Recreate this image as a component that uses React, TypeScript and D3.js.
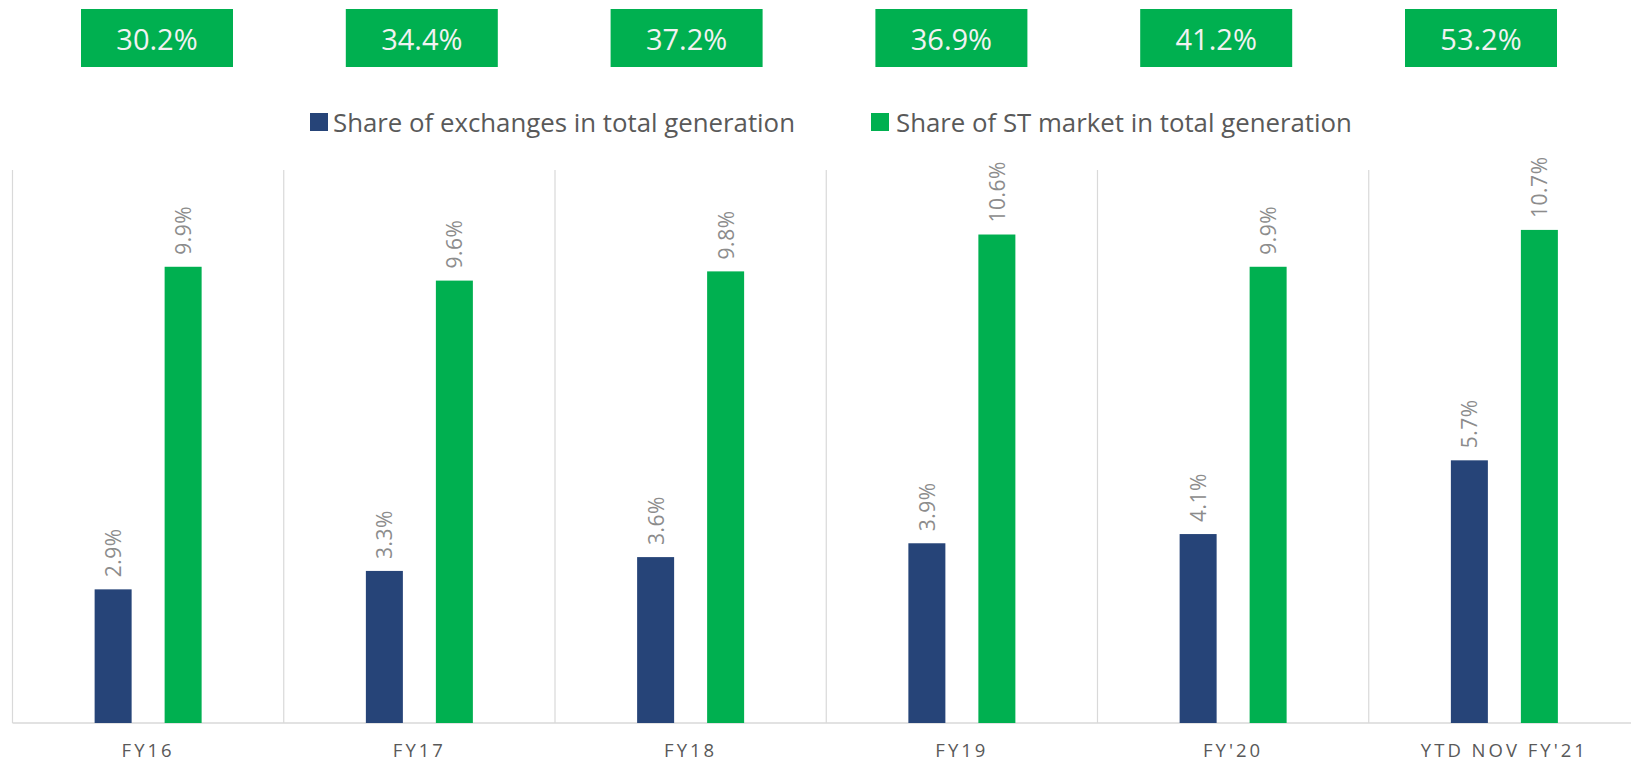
import React from "react";
import * as d3 from "d3";

const categories = ["FY16", "FY17", "FY18", "FY19", "FY'20", "YTD NOV FY'21"];
const exchangeShare = [2.9, 3.3, 3.6, 3.9, 4.1, 5.7];
const stMarketShare = [9.9, 9.6, 9.8, 10.6, 9.9, 10.7];
const boxValues = [30.2, 34.4, 37.2, 36.9, 41.2, 53.2];
const seriesNames = [
  "Share of exchanges in total generation",
  "Share of ST market in total generation",
];
const yDomain = [0, 12];

const W = 1631;
const H = 762;
const BLUE = "#264478";
const GREEN = "#00B050";
const FONT = "'Open Sans', 'Noto Sans', sans-serif";

export default function App() {
  const plotLeft = 12.5;
  const plotRight = 1640;
  const plotTop = 170;
  const baseline = 723;

  const x = d3.scaleBand<string>().domain(categories).range([plotLeft, plotRight]).padding(0);
  const groupW = 107;
  const inner = d3
    .scaleBand<string>()
    .domain(["ex", "st"])
    .range([0, groupW])
    .paddingInner(33 / 70)
    .paddingOuter(0);
  const y = d3.scaleLinear().domain(yDomain).range([baseline, plotTop]);
  const boxX = d3.scalePoint<string>().domain(categories).range([157, 1481]);

  const fmt = (v: number) => d3.format(".1f")(v) + "%";
  const groupStart = (c: string) => (x(c) as number) + x.bandwidth() / 2 - groupW / 2;

  const gridXs = categories.map((c) => x(c) as number).concat([plotRight]);

  const series = [
    { key: "ex", values: exchangeShare, color: BLUE },
    { key: "st", values: stMarketShare, color: GREEN },
  ];

  return (
    <svg
      width={W}
      height={H}
      style={{ position: "absolute", left: 0, top: 0, display: "block", background: "#fff" }}
    >
      {/* top green boxes */}
      {boxValues.map((v, i) => {
        const cx = boxX(categories[i]) as number;
        return (
          <g key={"box" + i}>
            <rect x={cx - 76} y={9} width={152} height={58} fill={GREEN} />
            <text
              x={cx}
              y={38}
              textAnchor="middle"
              dominantBaseline="central"
              fill="#F2F2F2"
              fontFamily={FONT}
              fontSize={29}
            >
              {fmt(v)}
            </text>
          </g>
        );
      })}

      {/* legend */}
      <g>
        <rect x={310} y={113} width={18} height={18} fill={BLUE} />
        <text x={333} y={122} dominantBaseline="central" fill="#595959" fontFamily={FONT} fontSize={25.8}>
          {seriesNames[0]}
        </text>
        <rect x={871} y={113} width={18} height={18} fill={GREEN} />
        <text x={896} y={122} dominantBaseline="central" fill="#595959" fontFamily={FONT} fontSize={25.8}>
          {seriesNames[1]}
        </text>
      </g>

      {/* vertical gridlines */}
      {gridXs.map((gx, i) => (
        <line key={"g" + i} x1={gx} x2={gx} y1={plotTop} y2={baseline} stroke="#D9D9D9" strokeWidth={1.2} />
      ))}
      {/* baseline */}
      <line x1={plotLeft} x2={W} y1={baseline} y2={baseline} stroke="#D9D9D9" strokeWidth={1.5} />

      {/* bars */}
      {series.map((s) =>
        s.values.map((v, i) => {
          const c = categories[i];
          const bx = groupStart(c) + (inner(s.key) as number);
          const bw = inner.bandwidth();
          const top = y(v);
          return (
            <g key={s.key + i}>
              <rect x={bx} y={top} width={bw} height={baseline - top} fill={s.color} />
              <text
                transform={`translate(${bx + bw / 2},${top - 12}) rotate(-90)`}
                dominantBaseline="central"
                textAnchor="start"
                fill="#8C8C8C"
                fontFamily={FONT}
                fontSize={21}
                letterSpacing={0.5}
              >
                {fmt(v)}
              </text>
            </g>
          );
        })
      )}

      {/* category labels */}
      {categories.map((c) => (
        <text
          key={"c" + c}
          x={(x(c) as number) + x.bandwidth() / 2}
          y={757}
          textAnchor="middle"
          fill="#595959"
          fontFamily={FONT}
          fontSize={18.5}
          letterSpacing={3}
        >
          {c}
        </text>
      ))}
    </svg>
  );
}
